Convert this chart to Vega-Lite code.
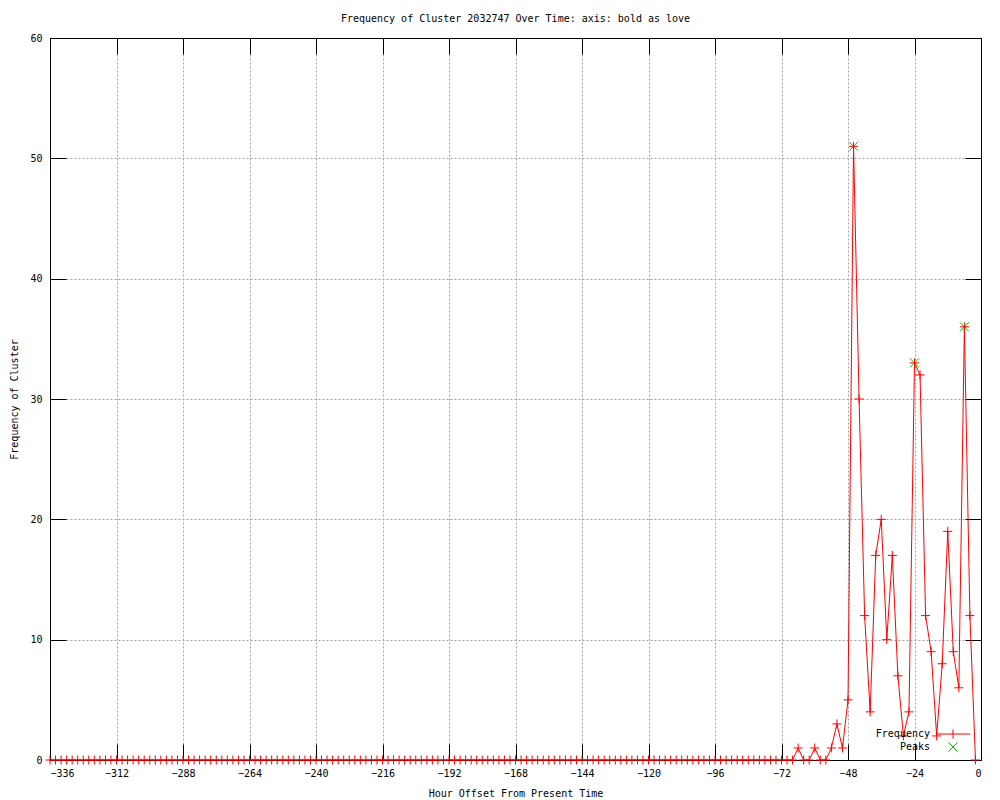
{
  "$schema": "https://vega.github.io/schema/vega-lite/v6.json",
  "width": 931,
  "height": 722,
  "autosize": "none",
  "padding": {"left": 50, "top": 38, "right": 19, "bottom": 40},
  "background": "white",
  "title": {"text": "Frequency of Cluster 2032747 Over Time: axis: bold as love", "font": "DejaVu Sans Mono", "fontSize": 10, "fontWeight": "normal", "color": "black", "offset": 9},
  "datasets": {
    "frequency": [
      {"hour": -336, "count": 0}, {"hour": -334, "count": 0}, {"hour": -332, "count": 0}, {"hour": -330, "count": 0},
      {"hour": -328, "count": 0}, {"hour": -326, "count": 0}, {"hour": -324, "count": 0}, {"hour": -322, "count": 0},
      {"hour": -320, "count": 0}, {"hour": -318, "count": 0}, {"hour": -316, "count": 0}, {"hour": -314, "count": 0},
      {"hour": -312, "count": 0}, {"hour": -310, "count": 0}, {"hour": -308, "count": 0}, {"hour": -306, "count": 0},
      {"hour": -304, "count": 0}, {"hour": -302, "count": 0}, {"hour": -300, "count": 0}, {"hour": -298, "count": 0},
      {"hour": -296, "count": 0}, {"hour": -294, "count": 0}, {"hour": -292, "count": 0}, {"hour": -290, "count": 0},
      {"hour": -288, "count": 0}, {"hour": -286, "count": 0}, {"hour": -284, "count": 0}, {"hour": -282, "count": 0},
      {"hour": -280, "count": 0}, {"hour": -278, "count": 0}, {"hour": -276, "count": 0}, {"hour": -274, "count": 0},
      {"hour": -272, "count": 0}, {"hour": -270, "count": 0}, {"hour": -268, "count": 0}, {"hour": -266, "count": 0},
      {"hour": -264, "count": 0}, {"hour": -262, "count": 0}, {"hour": -260, "count": 0}, {"hour": -258, "count": 0},
      {"hour": -256, "count": 0}, {"hour": -254, "count": 0}, {"hour": -252, "count": 0}, {"hour": -250, "count": 0},
      {"hour": -248, "count": 0}, {"hour": -246, "count": 0}, {"hour": -244, "count": 0}, {"hour": -242, "count": 0},
      {"hour": -240, "count": 0}, {"hour": -238, "count": 0}, {"hour": -236, "count": 0}, {"hour": -234, "count": 0},
      {"hour": -232, "count": 0}, {"hour": -230, "count": 0}, {"hour": -228, "count": 0}, {"hour": -226, "count": 0},
      {"hour": -224, "count": 0}, {"hour": -222, "count": 0}, {"hour": -220, "count": 0}, {"hour": -218, "count": 0},
      {"hour": -216, "count": 0}, {"hour": -214, "count": 0}, {"hour": -212, "count": 0}, {"hour": -210, "count": 0},
      {"hour": -208, "count": 0}, {"hour": -206, "count": 0}, {"hour": -204, "count": 0}, {"hour": -202, "count": 0},
      {"hour": -200, "count": 0}, {"hour": -198, "count": 0}, {"hour": -196, "count": 0}, {"hour": -194, "count": 0},
      {"hour": -192, "count": 0}, {"hour": -190, "count": 0}, {"hour": -188, "count": 0}, {"hour": -186, "count": 0},
      {"hour": -184, "count": 0}, {"hour": -182, "count": 0}, {"hour": -180, "count": 0}, {"hour": -178, "count": 0},
      {"hour": -176, "count": 0}, {"hour": -174, "count": 0}, {"hour": -172, "count": 0}, {"hour": -170, "count": 0},
      {"hour": -168, "count": 0}, {"hour": -166, "count": 0}, {"hour": -164, "count": 0}, {"hour": -162, "count": 0},
      {"hour": -160, "count": 0}, {"hour": -158, "count": 0}, {"hour": -156, "count": 0}, {"hour": -154, "count": 0},
      {"hour": -152, "count": 0}, {"hour": -150, "count": 0}, {"hour": -148, "count": 0}, {"hour": -146, "count": 0},
      {"hour": -144, "count": 0}, {"hour": -142, "count": 0}, {"hour": -140, "count": 0}, {"hour": -138, "count": 0},
      {"hour": -136, "count": 0}, {"hour": -134, "count": 0}, {"hour": -132, "count": 0}, {"hour": -130, "count": 0},
      {"hour": -128, "count": 0}, {"hour": -126, "count": 0}, {"hour": -124, "count": 0}, {"hour": -122, "count": 0},
      {"hour": -120, "count": 0}, {"hour": -118, "count": 0}, {"hour": -116, "count": 0}, {"hour": -114, "count": 0},
      {"hour": -112, "count": 0}, {"hour": -110, "count": 0}, {"hour": -108, "count": 0}, {"hour": -106, "count": 0},
      {"hour": -104, "count": 0}, {"hour": -102, "count": 0}, {"hour": -100, "count": 0}, {"hour": -98, "count": 0},
      {"hour": -96, "count": 0}, {"hour": -94, "count": 0}, {"hour": -92, "count": 0}, {"hour": -90, "count": 0},
      {"hour": -88, "count": 0}, {"hour": -86, "count": 0}, {"hour": -84, "count": 0}, {"hour": -82, "count": 0},
      {"hour": -80, "count": 0}, {"hour": -78, "count": 0}, {"hour": -76, "count": 0}, {"hour": -74, "count": 0},
      {"hour": -72, "count": 0}, {"hour": -70, "count": 0}, {"hour": -68, "count": 0}, {"hour": -66, "count": 1},
      {"hour": -64, "count": 0}, {"hour": -62, "count": 0}, {"hour": -60, "count": 1}, {"hour": -58, "count": 0},
      {"hour": -56, "count": 0}, {"hour": -54, "count": 1}, {"hour": -52, "count": 3}, {"hour": -50, "count": 1},
      {"hour": -48, "count": 5}, {"hour": -46, "count": 51}, {"hour": -44, "count": 30}, {"hour": -42, "count": 12},
      {"hour": -40, "count": 4}, {"hour": -38, "count": 17}, {"hour": -36, "count": 20}, {"hour": -34, "count": 10},
      {"hour": -32, "count": 17}, {"hour": -30, "count": 7}, {"hour": -28, "count": 2}, {"hour": -26, "count": 4},
      {"hour": -24, "count": 33}, {"hour": -22, "count": 32}, {"hour": -20, "count": 12}, {"hour": -18, "count": 9},
      {"hour": -16, "count": 2}, {"hour": -14, "count": 8}, {"hour": -12, "count": 19}, {"hour": -10, "count": 9},
      {"hour": -8, "count": 6}, {"hour": -6, "count": 36}, {"hour": -4, "count": 12}, {"hour": -2, "count": 0}
    ],
    "peaks": [
      {"hour": -46, "count": 51},
      {"hour": -24, "count": 33},
      {"hour": -6, "count": 36}
    ]
  },
  "layer": [
    {
      "data": {"name": "frequency"},
      "mark": {"type": "line", "strokeWidth": 1, "clip": true},
      "encoding": {
        "x": {"field": "hour", "type": "quantitative", "scale": {"domain": [-336, 0], "nice": false, "zero": false},
          "axis": {"orient": "bottom", "values": [-336, -312, -288, -264, -240, -216, -192, -168, -144, -120, -96, -72, -48, -24, 0], "title": "Hour Offset From Present Time", "grid": true}},
        "y": {"field": "count", "type": "quantitative", "scale": {"domain": [0, 60], "nice": false},
          "axis": {"orient": "left", "values": [0, 10, 20, 30, 40, 50, 60], "title": "Frequency of Cluster", "grid": true}},
        "color": {"datum": "Frequency", "type": "nominal",
          "scale": {"domain": ["Frequency", "Peaks"], "range": ["#ff0000", "#00c000"]},
          "legend": {"title": null, "orient": "none", "legendX": 898, "legendY": 691, "padding": 0, "rowPadding": -1,
            "symbolSize": 81, "labelAlign": "right", "labelOffset": -28, "labelFont": "DejaVu Sans Mono", "labelFontSize": 10, "labelColor": "black",
            "encode": {"symbols": {"update": {
              "shape": {"signal": "datum.value === 'Frequency' ? 'M-3.8,0L3.8,0M0,-1L0,1' : 'M-1,-1L1,1M-1,1L1,-1'"},
              "stroke": {"signal": "datum.value === 'Frequency' ? '#ff0000' : '#00c000'"},
              "fill": {"value": "transparent"},
              "strokeWidth": {"value": 1},
              "opacity": {"value": 1}
            }}}}}
      }
    },
    {
      "data": {"name": "peaks"},
      "mark": {"type": "point", "shape": "M-1,-1L1,1M-1,1L1,-1", "filled": false, "size": 81, "strokeWidth": 1, "opacity": 1},
      "encoding": {
        "x": {"field": "hour", "type": "quantitative", "axis": {"orient": "top", "values": [-336, -312, -288, -264, -240, -216, -192, -168, -144, -120, -96, -72, -48, -24, 0], "labels": false, "title": null, "grid": false}},
        "y": {"field": "count", "type": "quantitative", "axis": {"orient": "right", "values": [0, 10, 20, 30, 40, 50, 60], "labels": false, "title": null, "grid": false}},
        "color": {"datum": "Peaks", "type": "nominal"}
      }
    },
    {
      "data": {"name": "frequency"},
      "mark": {"type": "point", "shape": "M-1,0L1,0M0,-1L0,1", "filled": false, "size": 81, "strokeWidth": 1, "opacity": 1},
      "encoding": {
        "x": {"field": "hour", "type": "quantitative", "axis": null},
        "y": {"field": "count", "type": "quantitative", "axis": null},
        "color": {"datum": "Frequency", "type": "nominal"}
      }
    }
  ],
  "resolve": {"axis": {"x": "independent", "y": "independent"}},
  "config": {
    "font": "DejaVu Sans Mono",
    "view": {"stroke": "black", "strokeWidth": 1},
    "axis": {
      "labelFont": "DejaVu Sans Mono", "labelFontSize": 10, "labelColor": "black",
      "titleFont": "DejaVu Sans Mono", "titleFontSize": 10, "titleFontWeight": "normal", "titleColor": "black",
      "domainColor": "black", "tickColor": "black", "tickSize": -16, "labelPadding": 24,
      "gridColor": "#a0a0a0", "gridDash": [2, 2], "gridWidth": 1, "gridOpacity": 1
    },
    "axisX": {"titlePadding": 10},
    "axisY": {"titlePadding": 10}
  }
}
